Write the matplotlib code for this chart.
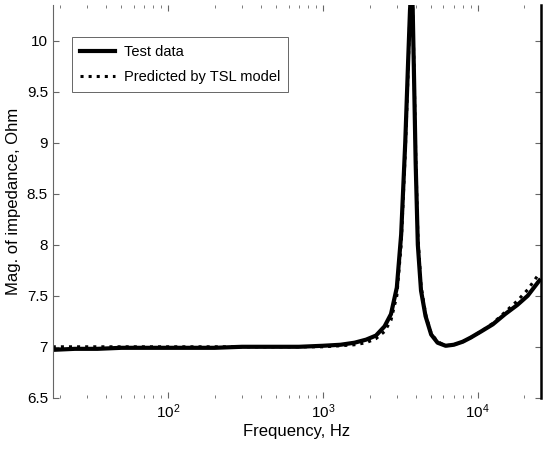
import matplotlib.pyplot as plt

plt.rcParams['font.family'] = ['Liberation Sans', 'DejaVu Sans']

freq = [18, 25, 35, 50, 70, 100, 150, 200, 300, 500, 700, 1000, 1300, 1600, 1900,
        2200, 2500, 2750, 3000, 3200, 3400, 3550, 3650, 3720, 3760, 3800, 3880, 3970,
        4100, 4300, 4600, 5000, 5500, 6200, 7000, 8000, 9000, 10500, 12500, 15000,
        18000, 21000, 25000]
test = [6.97, 6.98, 6.98, 6.99, 6.99, 6.99, 6.99, 6.99, 7.0, 7.0, 7.0, 7.01, 7.02, 7.04, 7.07,
        7.11, 7.2, 7.32, 7.58, 8.1, 9.0, 9.8, 10.3, 10.5, 10.5, 10.3, 9.6, 8.8,
        8.0, 7.55, 7.3, 7.12, 7.04, 7.01, 7.02, 7.05, 7.09, 7.15, 7.22, 7.32,
        7.41, 7.5, 7.65]
predicted = [7.0, 7.0, 7.0, 7.0, 7.0, 7.0, 7.0, 7.0, 7.0, 7.0, 7.0, 7.0, 7.01, 7.02, 7.04,
             7.08, 7.15, 7.26, 7.5, 8.0, 8.9, 9.7, 10.3, 10.5, 10.5, 10.3, 9.7, 8.9,
             8.1, 7.6, 7.32, 7.13, 7.05, 7.01, 7.02, 7.05, 7.09, 7.15, 7.23, 7.34,
             7.45, 7.56, 7.72]

fig = plt.figure(figsize=(5.44, 4.49), dpi=100)
ax = fig.add_axes([0.097, 0.114, 0.897, 0.875])

ax.semilogx(freq, test, color='black', lw=3.0, label='Test data')
ax.semilogx(freq, predicted, color='black', lw=2.2, ls=':', label='Predicted by TSL model')

ax.set_xlim(18, 25500)
ax.set_ylim(6.5, 10.35)
ax.set_yticks([6.5, 7, 7.5, 8, 8.5, 9, 9.5, 10])
ax.set_yticklabels(['6.5', '7', '7.5', '8', '8.5', '9', '9.5', '10'])

ax.tick_params(which='both', direction='in', top=True, right=True, color='0.4', labelsize=11)
ax.tick_params(which='major', length=4, width=0.8)
ax.tick_params(which='minor', length=2, width=0.6)

ax.spines['top'].set_visible(False)
ax.spines['bottom'].set_visible(False)
ax.spines['left'].set_color('0.4')
ax.spines['right'].set_linewidth(1.8)

ax.set_xlabel('Frequency, Hz', fontsize=12, labelpad=2)
ax.set_ylabel('Mag. of impedance, Ohm', fontsize=12, labelpad=4)

leg = ax.legend(loc='upper left', bbox_to_anchor=(0.04, 0.918), borderaxespad=0,
                fontsize=10.5, fancybox=False, framealpha=1, edgecolor='0.4',
                handlelength=2.4, handletextpad=0.6, borderpad=0.55, labelspacing=0.75)
leg.get_frame().set_linewidth(0.7)

plt.savefig('out.png', dpi=100)
